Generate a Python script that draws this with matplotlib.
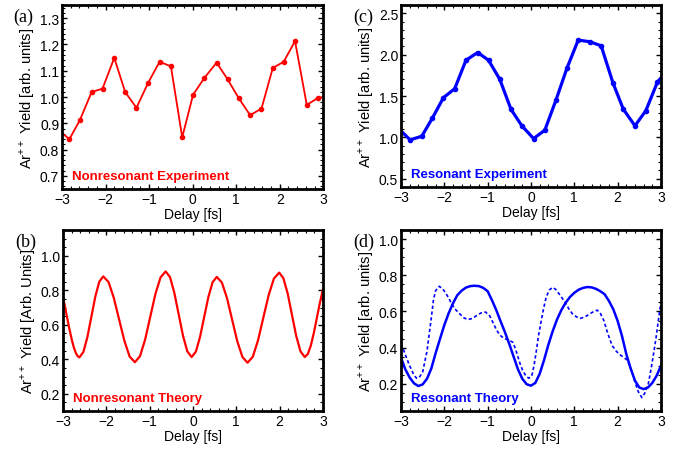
import matplotlib
matplotlib.use("Agg")
import matplotlib.pyplot as plt
from matplotlib.ticker import MultipleLocator, AutoMinorLocator

plt.rcParams["font.family"] = ["Liberation Sans", "DejaVu Sans"]
plt.rcParams["mathtext.fontset"] = "custom"
plt.rcParams["mathtext.rm"] = "Liberation Sans"
plt.rcParams["lines.solid_joinstyle"] = "round"

RED = "#ff0000"
BLUE = "#0000ff"

# ---------- (a) nonresonant experiment ----------
exp_nr_x = [-3.09, -2.83, -2.59, -2.32, -2.07, -1.80, -1.55, -1.29, -1.02, -0.76, -0.50, -0.24,
            0.01, 0.27, 0.55, 0.80, 1.06, 1.32, 1.58, 1.84, 2.09, 2.35, 2.62, 2.87, 3.13]
exp_nr_y = [0.875, 0.840, 0.912, 1.019, 1.032, 1.149, 1.019, 0.959, 1.055, 1.134, 1.117, 0.847,
            1.009, 1.073, 1.131, 1.068, 0.995, 0.931, 0.956, 1.111, 1.134, 1.213, 0.970, 0.996, 1.004]

# ---------- (c) resonant experiment ----------
exp_r_x = [-3.05, -2.79, -2.52, -2.28, -2.02, -1.76, -1.50, -1.23, -0.98, -0.72, -0.46, -0.21,
           0.06, 0.32, 0.58, 0.83, 1.09, 1.36, 1.62, 1.89, 2.13, 2.40, 2.65, 2.92, 3.18]
exp_r_y = [1.105, 0.970, 1.014, 1.229, 1.480, 1.589, 1.933, 2.026, 1.933, 1.702, 1.338, 1.140,
           0.986, 1.087, 1.455, 1.836, 2.176, 2.156, 2.107, 1.662, 1.342, 1.140, 1.322, 1.670, 1.83]

# ---------- (b) nonresonant theory ----------
th_nr_x = [-3.0, -2.95, -2.9, -2.85, -2.8, -2.75, -2.7, -2.66, -2.62,
           -2.528, -2.437, -2.345, -2.253, -2.162, -2.07,
           -1.948, -1.827, -1.705, -1.583, -1.462, -1.34,
           -1.222, -1.103, -0.985, -0.867, -0.748, -0.63,
           -0.53, -0.43, -0.33, -0.23, -0.13, -0.03,
           0.067, 0.163, 0.26, 0.357, 0.453, 0.55,
           0.668, 0.787, 0.905, 1.023, 1.142, 1.26,
           1.382, 1.503, 1.625, 1.747, 1.868, 1.99,
           2.088, 2.187, 2.285, 2.383, 2.482, 2.58,
           2.65, 2.72, 2.79, 2.86, 2.93, 3.0]
th_nr_y = [0.765, 0.700, 0.637, 0.575, 0.518, 0.469, 0.435, 0.418, 0.411,
           0.443, 0.528, 0.646, 0.764, 0.850, 0.881,
           0.848, 0.757, 0.632, 0.508, 0.416, 0.383,
           0.418, 0.515, 0.647, 0.778, 0.875, 0.910,
           0.877, 0.786, 0.662, 0.537, 0.446, 0.413,
           0.444, 0.529, 0.646, 0.762, 0.847, 0.878,
           0.845, 0.754, 0.629, 0.505, 0.413, 0.380,
           0.415, 0.511, 0.642, 0.772, 0.868, 0.903,
           0.870, 0.781, 0.658, 0.536, 0.446, 0.413,
           0.430, 0.479, 0.553, 0.640, 0.728, 0.805]

# ---------- (d) resonant theory, solid ----------
th_r_x = [-3.0, -2.9, -2.8, -2.7, -2.6, -2.5, -2.4, -2.3, -2.2, -2.1, -2.0, -1.9, -1.8, -1.7,
          -1.6, -1.5, -1.4, -1.3, -1.2, -1.1, -1.0, -0.9, -0.8, -0.7, -0.6, -0.5, -0.4, -0.3,
          -0.2, -0.1, 0.0, 0.1, 0.2, 0.3, 0.4, 0.5, 0.6, 0.7, 0.8, 0.9, 1.0, 1.1, 1.2, 1.3,
          1.4, 1.5, 1.6, 1.7, 1.8, 1.9, 2.0, 2.1, 2.2, 2.3, 2.4, 2.5, 2.6, 2.7, 2.8, 2.9, 3.0]
th_r_y = [0.345, 0.280, 0.235, 0.203, 0.188, 0.197, 0.228, 0.285, 0.370, 0.448, 0.525, 0.590,
          0.645, 0.690, 0.715, 0.732, 0.740, 0.742, 0.740, 0.730, 0.712, 0.662, 0.607, 0.545,
          0.485, 0.420, 0.350, 0.280, 0.228, 0.198, 0.190, 0.205, 0.255, 0.330, 0.415, 0.490,
          0.555, 0.607, 0.648, 0.680, 0.703, 0.720, 0.730, 0.735, 0.733, 0.725, 0.712, 0.695,
          0.658, 0.612, 0.548, 0.465, 0.365, 0.285, 0.218, 0.180, 0.171, 0.180, 0.205, 0.245,
          0.300]

# ---------- (d) resonant theory, dotted ----------
th_r2_x = [-3.0, -2.95, -2.9, -2.8, -2.7, -2.64, -2.58, -2.5, -2.4, -2.3, -2.25, -2.2, -2.12,
           -2.05, -1.98, -1.9, -1.83, -1.74, -1.64, -1.55, -1.45, -1.35, -1.25, -1.15, -1.05,
           -0.95, -0.88, -0.8, -0.72, -0.62, -0.53, -0.42, -0.36, -0.31, -0.25, -0.19, -0.12,
           -0.05, 0.02, 0.07, 0.12, 0.17, 0.23, 0.29, 0.35, 0.42, 0.50, 0.57, 0.65, 0.73, 0.81,
           0.88, 0.96, 1.05, 1.14, 1.25, 1.35, 1.45, 1.53, 1.60, 1.68, 1.77, 1.87, 1.97, 2.07,
           2.15, 2.22, 2.30, 2.41, 2.48, 2.56, 2.63, 2.71, 2.77, 2.83, 2.89, 2.94, 3.0]
th_r2_y = [0.420, 0.395, 0.360, 0.300, 0.248, 0.231, 0.235, 0.265, 0.380, 0.565, 0.665, 0.715,
           0.739, 0.728, 0.706, 0.675, 0.641, 0.610, 0.586, 0.565, 0.555, 0.562, 0.578, 0.592,
           0.597, 0.575, 0.540, 0.500, 0.470, 0.450, 0.444, 0.430, 0.395, 0.356, 0.310, 0.273,
           0.245, 0.231, 0.245, 0.300, 0.375, 0.460, 0.540, 0.615, 0.678, 0.718, 0.733, 0.722,
           0.697, 0.670, 0.641, 0.612, 0.586, 0.570, 0.562, 0.570, 0.586, 0.600, 0.607, 0.590,
           0.551, 0.480, 0.413, 0.380, 0.358, 0.345, 0.331, 0.290, 0.202, 0.155, 0.124, 0.150,
           0.202, 0.280, 0.367, 0.460, 0.551, 0.652]


def style_axes(ax, ylim, ymajor, yminor_n, ylabel, panel, tag, color):
    ax.set_xlim(-3, 3)
    ax.set_ylim(*ylim)
    ax.xaxis.set_major_locator(MultipleLocator(1))
    ax.xaxis.set_minor_locator(AutoMinorLocator(5))
    ax.yaxis.set_major_locator(MultipleLocator(ymajor))
    ax.yaxis.set_minor_locator(AutoMinorLocator(yminor_n))
    ax.tick_params(which="both", direction="in", top=True, right=True, labelsize=10, pad=2)
    ax.tick_params(which="major", length=3.5, width=1)
    ax.tick_params(which="minor", length=2, width=0.8)
    for s in ax.spines.values():
        s.set_linewidth(2)
    ax.set_xlabel("Delay [fs]", fontsize=10, labelpad=1)
    ax.set_ylabel(ylabel, fontsize=10.5, labelpad=2)
    ax.text(-0.185, 0.985, panel, transform=ax.transAxes, family="Liberation Serif",
            fontsize=13, va="top", ha="left")
    ax.text(0.038, 0.07, tag, transform=ax.transAxes, color=color, fontsize=9.5,
            fontweight="bold", va="center", ha="left")


fig = plt.figure(figsize=(6.77, 4.52), dpi=100)
ax_a = fig.add_axes([0.0916, 0.5796, 0.386, 0.407])
ax_c = fig.add_axes([0.5923, 0.584, 0.384, 0.4027])
ax_b = fig.add_axes([0.093, 0.0885, 0.384, 0.4004])
ax_d = fig.add_axes([0.5923, 0.0885, 0.384, 0.4004])

ax_a.plot(exp_nr_x, exp_nr_y, color=RED, lw=1.3, marker="o", ms=3)
style_axes(ax_a, (0.65, 1.35), 0.1, 5, "Ar$^{++}$ Yield [arb. units]", "(a)",
           "Nonresonant Experiment", RED)

ax_c.plot(exp_r_x, exp_r_y, color=BLUE, lw=2.3, marker="o", ms=3)
style_axes(ax_c, (0.4, 2.6), 0.5, 5, "Ar$^{++}$ Yield [arb. units]", "(c)",
           "Resonant Experiment", BLUE)

ax_b.plot(th_nr_x, th_nr_y, color=RED, lw=1.6)
style_axes(ax_b, (0.1, 1.15), 0.2, 4, "Ar$^{++}$ Yield [Arb. Units]", "(b)",
           "Nonresonant Theory", RED)

ax_d.plot(th_r_x, th_r_y, color=BLUE, lw=1.8)
ax_d.plot(th_r2_x, th_r2_y, color=BLUE, lw=1.2, ls=(0, (2, 1.5)))
style_axes(ax_d, (0.05, 1.05), 0.2, 4, "Ar$^{++}$ Yield [arb. units]", "(d)",
           "Resonant Theory", BLUE)

fig.savefig("out.png", dpi=100)
